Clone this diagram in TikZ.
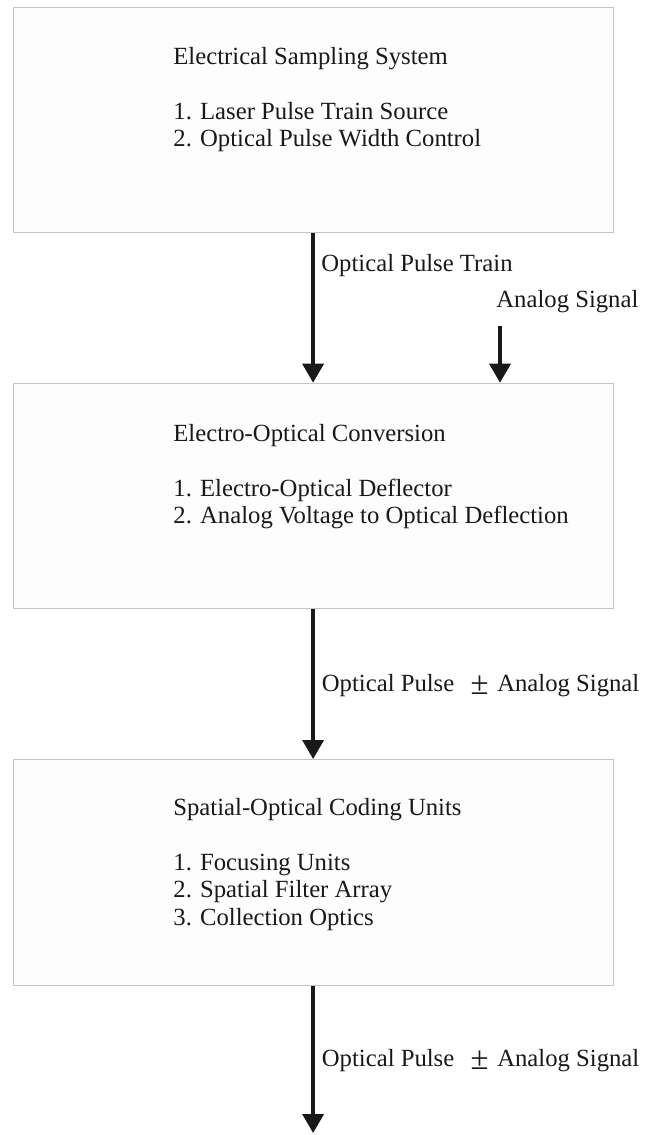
\documentclass[tikz,border=0pt]{standalone}
\usepackage{fontspec}
\setmainfont{Liberation Serif}
\usetikzlibrary{arrows.meta}
\definecolor{boxline}{RGB}{195,195,195}
\definecolor{boxfill}{RGB}{253,253,253}
\definecolor{ink}{RGB}{25,25,25}
\newcommand\bigpm{\raisebox{-1.3pt}{\resizebox{9pt}{9.3pt}{±}}}
\begin{document}
\begin{tikzpicture}[x=0.5pt,y=-0.5pt,
  box/.style={draw=boxline, line width=0.6pt, fill=boxfill, inner sep=0pt,
              minimum width=300pt, anchor=north west},
  body/.style={anchor=base west, inner sep=0pt, text=ink,
               font=\fontsize{12.35}{13.75}\selectfont},
  lbl/.style={anchor=base west, inner sep=0pt, text=ink,
              font=\fontsize{12.35}{13.75}\selectfont},
  flow/.style={draw=ink, line width=1.8pt, -{Triangle[width=10.5pt,length=9.5pt]}}]
\useasboundingbox (0,0) rectangle (646,1135);

% boxes
\node[box, minimum height=112.5pt] (b1) at (12.5,6.7) {};
\node[box, minimum height=112.65pt] (b2) at (12.5,382.7) {};
\node[box, minimum height=113pt] (b3) at (12.5,759) {};

% box texts
\node[body] (t1) at (173,64) {\begin{tabular}[t]{@{}l@{}}Electrical Sampling System\\ \\ 1. Laser Pulse Train Source\\ 2. Optical Pulse Width Control\end{tabular}};
\node[body] (t2) at (173,441) {\begin{tabular}[t]{@{}l@{}}Electro-Optical Conversion\\ \\ 1. Electro-Optical Deflector\\ 2. Analog Voltage to Optical Deflection\end{tabular}};
\node[body] (t3) at (173,815) {\begin{tabular}[t]{@{}l@{}}Spatial-Optical Coding Units\\ \\ 1. Focusing Units\\ 2. Spatial Filter Array\\ 3. Collection Optics\end{tabular}};

% connectors
\draw[flow] (b1.south) -- (b2.north);
\coordinate (as) at (500,326);
\draw[flow] (as) -- (as |- b2.north);
\draw[flow] (b2.south) -- (b3.north);
\coordinate (out) at (312,1133);
\draw[flow] (b3.south) -- (b3.south |- out);

% labels
\node[lbl] (l1) at (321,271.5) {Optical Pulse Train};
\node[lbl] (l2) at (496,307) {Analog Signal};
\node[lbl] (l3) at (321.5,691.5) {Optical Pulse\hspace{8.2pt}\bigpm\hspace{4.3pt}Analog Signal};
\node[lbl] (l4) at (321.5,1066.5) {Optical Pulse\hspace{8.2pt}\bigpm\hspace{4.3pt}Analog Signal};
\end{tikzpicture}
\end{document}
